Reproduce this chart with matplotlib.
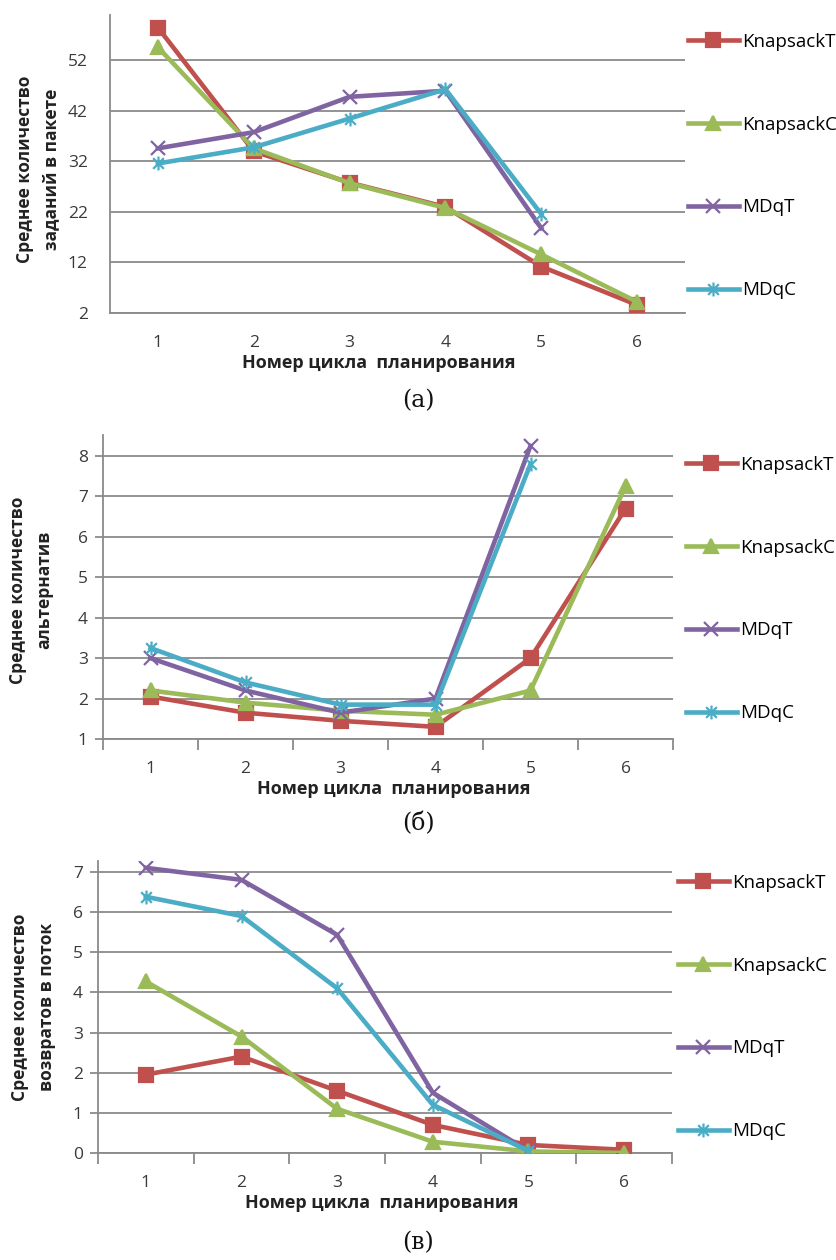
import numpy as np
import matplotlib
matplotlib.use("Agg")
import matplotlib.pyplot as plt
from matplotlib.path import Path
from matplotlib.ticker import FixedLocator

plt.rcParams["font.family"] = ["Open Sans", "DejaVu Sans"]

cycles = [1, 2, 3, 4, 5, 6]
series_names = ["KnapsackT", "KnapsackC", "MDqT", "MDqC"]

# (а) average number of jobs in a batch
jobs_knapsack_t = [58.5, 34.0, 27.8, 23.0, 11.2, 3.6]
jobs_knapsack_c = [54.6, 34.6, 27.7, 22.8, 13.6, 4.2]
jobs_mdq_t = [34.6, 37.8, 44.8, 46.0, 18.8]
jobs_mdq_c = [31.6, 34.8, 40.5, 46.3, 21.6]

# (б) average number of alternatives
alt_knapsack_t = [2.05, 1.65, 1.45, 1.3, 3.0, 6.7]
alt_knapsack_c = [2.2, 1.9, 1.7, 1.6, 2.2, 7.25]
alt_mdq_t = [3.0, 2.2, 1.65, 2.0, 8.25]
alt_mdq_c = [3.25, 2.4, 1.85, 1.85, 7.8]

# (в) average number of returns to the flow
ret_knapsack_t = [1.95, 2.4, 1.55, 0.7, 0.2, 0.08]
ret_knapsack_c = [4.27, 2.9, 1.1, 0.28, 0.04, 0.0]
ret_mdq_t = [7.1, 6.8, 5.43, 1.5, 0.05]
ret_mdq_c = [6.38, 5.9, 4.1, 1.2, 0.05]

COLORS = ["#C0504D", "#9BBB59", "#8064A2", "#4BACC6"]
GRID = "#8a8a8a"
TXT = "#3a3a3a"

# Excel "star" marker: an x crossed with a vertical bar
STAR = Path([(-1, -1), (1, 1), (-1, 1), (1, -1), (0, -1.3), (0, 1.3)],
            [Path.MOVETO, Path.LINETO, Path.MOVETO, Path.LINETO, Path.MOVETO, Path.LINETO])
MARKERS = [("s", 9.5), ("^", 10), ("x", 10), (STAR, 10)]

W, H = 836, 1260
fig = plt.figure(figsize=(W / 100, H / 100), dpi=100)


def px_axes(left, right, top, bottom):
    return fig.add_axes([left / W, 1 - bottom / H, (right - left) / W, (bottom - top) / H])


def draw_panel(ax, data, yticks, ylim, ylabel, ticks_out, leg_xy, label, label_y,
               xlab_x, ylab_xy):
    for (vals, name, color, (mk, ms)) in zip(data, series_names, COLORS, MARKERS):
        x = cycles[:len(vals)]
        ax.plot(x, vals, color=color, lw=3.3, marker=mk, ms=ms,
                mfc=color, mec=color, mew=1.6, label=name, zorder=3)
    ax.set_xlim(0.5, 6.5)
    ax.set_ylim(*ylim)
    ax.set_yticks(yticks)
    ax.set_xticks(cycles)
    ax.grid(True, axis="y", color=GRID, lw=1.3, zorder=0)
    for s in ["top", "right"]:
        ax.spines[s].set_visible(False)
    for s in ["left", "bottom"]:
        ax.spines[s].set_color(GRID)
        ax.spines[s].set_linewidth(1.3)
    ax.tick_params(axis="both", labelsize=12.5, labelcolor=TXT, colors=GRID)
    ax.tick_params(axis="x", length=0, pad=16)
    if ticks_out:
        ax.tick_params(axis="y", length=6, width=1.3, direction="out", pad=5)
        ax.xaxis.set_minor_locator(FixedLocator(np.arange(0.5, 7.0, 1.0)))
        ax.tick_params(axis="x", which="minor", length=8, width=1.3,
                       direction="out", color=GRID)
    else:
        ax.tick_params(axis="y", length=0, pad=16)
    for t in ax.get_xticklabels() + ax.get_yticklabels():
        t.set_color(TXT)
    ax.set_xlabel("Номер цикла  планирования", fontsize=13, fontweight="bold",
                  color="#222222", labelpad=2)
    ax.xaxis.label.set_x(xlab_x)
    ax.set_ylabel(ylabel, fontsize=12.5, fontweight="bold", color="#222222",
                  linespacing=1.6)
    ax.yaxis.set_label_coords(*ylab_xy)
    ax.legend(loc="upper left", bbox_to_anchor=(leg_xy[0] / W, 1 - leg_xy[1] / H),
              bbox_transform=fig.transFigure, frameon=False,
              fontsize=13.5, handlelength=2.7, handletextpad=0.2,
              labelspacing=3.45, borderaxespad=0, borderpad=0)
    fig.text(418 / W, 1 - label_y / H, label, family="DejaVu Serif", fontsize=17,
             ha="center", va="center", color="#111111")


ax_a = px_axes(110, 685, 15, 313)
draw_panel(ax_a, [jobs_knapsack_t, jobs_knapsack_c, jobs_mdq_t, jobs_mdq_c],
           [2, 12, 22, 32, 42, 52], (2, 61),
           "Среднее количество\nзаданий в пакете", False, (688, 33), "(а)", 401,
           xlab_x=0.468, ylab_xy=(-0.086, 0.483))

ax_b = px_axes(103, 673, 435, 739)
draw_panel(ax_b, [alt_knapsack_t, alt_knapsack_c, alt_mdq_t, alt_mdq_c],
           [1, 2, 3, 4, 5, 6, 7, 8], (1, 8.52),
           "Среднее количество\nальтернатив", True, (686, 456), "(б)", 824,
           xlab_x=0.51, ylab_xy=(-0.087, 0.49))

ax_c = px_axes(98, 672, 861, 1153)
draw_panel(ax_c, [ret_knapsack_t, ret_knapsack_c, ret_mdq_t, ret_mdq_c],
           [0, 1, 2, 3, 4, 5, 6, 7], (0, 7.27),
           "Среднее количество\nвозвратов в поток", True, (678, 874), "(в)", 1243,
           xlab_x=0.495, ylab_xy=(-0.074, 0.5))

fig.savefig("out.png", dpi=100, facecolor="white")
